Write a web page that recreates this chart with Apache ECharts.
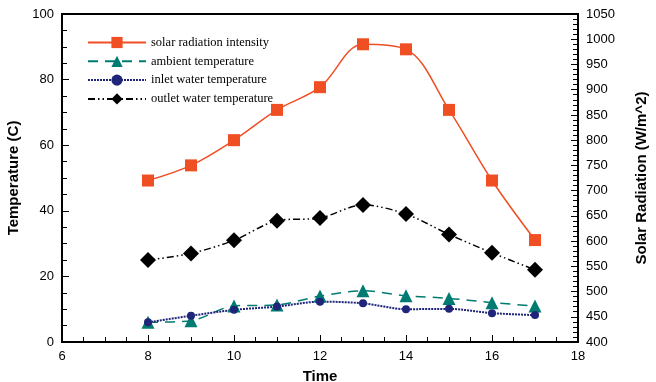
<!DOCTYPE html>
<html>
<head>
<meta charset="utf-8">
<script src="https://cdn.jsdelivr.net/npm/echarts@6/dist/echarts.min.js"></script>
<style>
html, body { margin: 0; padding: 0; background: #fff; }
#main { width: 656px; height: 382px; }
</style>
</head>
<body>
<div id="main"></div>
<script>
var hours = [8, 9, 10, 11, 12, 13, 14, 15, 16, 17]
var solar = [720, 750, 800, 860, 905, 990, 980, 860, 720, 602]
var ambient = [6, 6.5, 11, 11.3, 14, 15.6, 14.1, 13.3, 12, 11]
var inlet = [6, 8, 9.8, 10.8, 12.3, 11.8, 10, 10.1, 8.8, 8.2]
var outlet = [25, 27, 31, 37, 37.8, 41.8, 39, 32.8, 27.2, 22]

function pairs(ys) {
    var out = []
    for (var i = 0; i < hours.length; i++) {
        out.push([hours[i], ys[i]])
    }
    return out
}

var axisFont = { fontFamily: 'Liberation Sans', fontSize: 13, color: '#000', formatter: function (v) { return String(v) } }
var nameFont = { fontFamily: 'Liberation Sans', fontSize: 15, fontWeight: 'bold', color: '#000' }
var box = { left: 62, right: 78, top: 14, bottom: 40, outerBoundsMode: 'none' }

// extra axes (on twin grids) only for the small in-between ticks, minorTick can't point inside
function minorAxis(grid, min, max, step, pos) {
    return {
        type: 'value', gridIndex: grid, min: min, max: max, interval: step, position: pos,
        axisLine: { show: true, onZero: false, lineStyle: { color: 'rgba(0,0,0,0)' } },
        axisTick: { show: true, inside: true, length: 5, lineStyle: { color: '#000', width: 1 } },
        axisLabel: { show: false },
        splitLine: { show: false }
    }
}

var myChart = echarts.init(document.getElementById('main'));

myChart.setOption({
    animation: false,
    grid: [
        Object.assign({ show: true, borderColor: '#000', borderWidth: 2 }, box),
        Object.assign({}, box),
        Object.assign({}, box)
    ],
    legend: {
        orient: 'vertical',
        left: 82,
        top: 31,
        itemWidth: 58,
        itemHeight: 14,
        itemGap: 5.8,
        textStyle: { fontFamily: 'Liberation Serif', fontSize: 12.5, color: '#000' },
        data: ['solar radiation intensity', 'ambient temperature', 'inlet water temperature', 'outlet water temperature']
    },
    xAxis: [{
        type: 'value',
        min: 6, max: 18, interval: 2,
        name: 'Time',
        nameLocation: 'middle',
        nameGap: 27,
        nameTextStyle: nameFont,
        axisLine: { lineStyle: { color: '#000', width: 2 } },
        axisTick: { inside: true, length: 7, lineStyle: { color: '#000' } },
        axisLabel: axisFont,
        splitLine: { show: false }
    }, minorAxis(1, 6, 18, 0.5, 'bottom'), {
        type: 'value', gridIndex: 2, min: 6, max: 18, show: false
    }],
    yAxis: [{
        type: 'value',
        min: 0, max: 100, interval: 20,
        name: 'Temperature (C)',
        nameLocation: 'middle',
        nameGap: 25,
        nameTextStyle: nameFont,
        position: 'left',
        axisLine: { show: true, lineStyle: { color: '#000', width: 2 } },
        axisTick: { show: true, inside: true, length: 7, lineStyle: { color: '#000' } },
        axisLabel: axisFont,
        splitLine: { show: false }
    }, {
        type: 'value',
        min: 400, max: 1050, interval: 50,
        name: 'Solar Radiation (W/m^2)',
        nameLocation: 'middle',
        nameGap: 56,
        nameRotate: 90,
        nameTextStyle: nameFont,
        position: 'right',
        axisLine: { show: true, lineStyle: { color: '#000', width: 2 } },
        axisTick: { show: true, inside: true, length: 7, lineStyle: { color: '#000' } },
        axisLabel: axisFont,
        splitLine: { show: false }
    }, minorAxis(1, 0, 100, 5, 'left'), minorAxis(2, 400, 1050, 10, 'right')],
    series: [{
        name: 'solar radiation intensity',
        type: 'line',
        yAxisIndex: 1,
        data: pairs(solar),
        smooth: 0.35,
        symbol: 'rect',
        symbolSize: 12,
        itemStyle: { color: '#f04e23' },
        lineStyle: { color: '#f04e23', width: 1.5 }
    }, {
        name: 'ambient temperature',
        type: 'line',
        data: pairs(ambient),
        smooth: 0.3,
        symbol: 'triangle',
        symbolSize: 13,
        itemStyle: { color: '#007b72' },
        lineStyle: { color: '#007b72', width: 1.5, type: [10, 7] }
    }, {
        name: 'inlet water temperature',
        type: 'line',
        data: pairs(inlet),
        smooth: 0.3,
        symbol: 'circle',
        symbolSize: 8,
        itemStyle: { color: '#1f2578' },
        lineStyle: { color: '#1f2578', width: 2, type: [2, 1] }
    }, {
        name: 'outlet water temperature',
        type: 'line',
        data: pairs(outlet),
        smooth: 0.3,
        symbol: 'diamond',
        symbolSize: 16,
        itemStyle: { color: '#000' },
        lineStyle: { color: '#000', width: 1.5, type: [7, 3, 1.5, 3, 1.5, 3] }
    }]
});
</script>
</body>
</html>
